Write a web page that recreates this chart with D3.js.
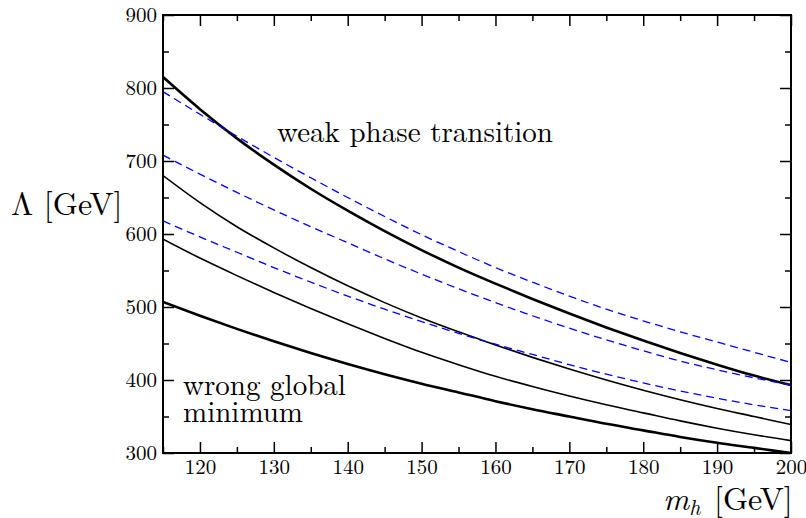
<!DOCTYPE html>
<html>
<head>
<meta charset="utf-8">
<script src="https://cdn.jsdelivr.net/npm/d3@7"></script>
<style>
  body { margin: 0; background: #fff; }
</style>
</head>
<body>
<div id="chart"></div>
<script>
const mh = [115, 120, 125, 130, 135, 140, 145, 150, 155, 160, 165, 170, 175, 180, 185, 190, 195, 200];

// solid black curves, top to bottom (first and last are the thick ones)
const solidTop = [815, 771, 731, 695, 662, 632, 604, 578, 554, 532, 511, 491, 472, 454, 437, 421, 406, 393];
const solid2 = [680, 643, 610, 581, 554, 529, 506, 485, 466, 448, 431, 415, 400, 386, 373, 361, 350, 339];
const solid3 = [593, 567, 543, 520, 498, 477, 457, 438, 421, 405, 391, 378, 366, 355, 344, 334, 325, 317];
const solidBottom = [507, 488, 470, 453, 437, 422, 408, 395, 383, 371, 360, 350, 340, 331, 322, 314, 307, 300];

// blue dashed curves, top to bottom
const dashed1 = [795, 764, 734, 705, 677, 650, 624, 599, 576, 554, 534, 515, 497, 481, 466, 452, 438, 424];
const dashed2 = [708, 682, 657, 633, 610, 588, 566, 545, 525, 506, 488, 471, 455, 440, 426, 414, 403, 393];
const dashed3 = [618, 596, 575, 554, 534, 515, 497, 480, 464, 449, 435, 421, 408, 396, 385, 375, 366, 358];

const xTicks = [120, 130, 140, 150, 160, 170, 180, 190, 200];
const yTicks = [300, 400, 500, 600, 700, 800, 900];

const width = 806,
  height = 518,
  margin = { top: 15, right: 15, bottom: 65, left: 163 };

// pick the first serif face that is really installed (canvas width test)
function pickFont(candidates) {
  const ctx = document.createElement("canvas").getContext("2d");
  const probe = "mmmwwwlli 0123456789 ΛGeV";
  ctx.font = "40px monospace";
  const base = ctx.measureText(probe).width;
  for (const f of candidates) {
    ctx.font = `40px "${f}", monospace`;
    if (ctx.measureText(probe).width !== base) return `"${f}", serif`;
  }
  return "serif";
}
const serifFont = pickFont(["Latin Modern Roman", "CMU Serif", "Liberation Serif", "Tinos", "Times New Roman",
  "DejaVu Serif", "Noto Serif", "FreeSerif", "Nimbus Roman", "Nimbus Roman No9 L"]);

const svg = d3
  .select("#chart")
  .append("svg")
  .attr("width", width)
  .attr("height", height)
  .style("font-family", serifFont);

const xScale = d3
  .scaleLinear()
  .domain([115, 200])
  .range([margin.left, width - margin.right]);

const yScale = d3
  .scaleLinear()
  .domain([300, 900])
  .range([height - margin.bottom, margin.top]);

// curves
const lineFunc = d3
  .line()
  .x(d => xScale(d[0]))
  .y(d => yScale(d[1]))
  .curve(d3.curveMonotoneX);

const series = [
  { values: solidTop, color: "#000", w: 2.6, dash: null },
  { values: solid2, color: "#000", w: 1.6, dash: null },
  { values: solid3, color: "#000", w: 1.6, dash: null },
  { values: solidBottom, color: "#000", w: 2.6, dash: null },
  { values: dashed1, color: "#0000ff", w: 1.3, dash: "8,5" },
  { values: dashed2, color: "#0000ff", w: 1.3, dash: "8,5" },
  { values: dashed3, color: "#0000ff", w: 1.3, dash: "8,5" },
];

svg
  .append("defs")
  .append("clipPath")
  .attr("id", "plot-clip")
  .append("rect")
  .attr("x", margin.left)
  .attr("y", margin.top)
  .attr("width", width - margin.left - margin.right)
  .attr("height", height - margin.top - margin.bottom);

svg
  .append("g")
  .attr("clip-path", "url(#plot-clip)")
  .selectAll("path.curve")
  .data(series)
  .join("path")
  .attr("class", "curve")
  .attr("fill", "none")
  .attr("stroke", d => d.color)
  .attr("stroke-width", d => d.w)
  .attr("stroke-dasharray", d => d.dash)
  .attr("d", d => lineFunc(d.values.map((v, i) => [mh[i], v])));

// axes: ticks point inward on all four sides, minor ticks every half step
const majorLen = 11, minorLen = 6;
const xMinor = d3.range(115, 201, 5).filter(v => !xTicks.includes(v));
const yMinor = d3.range(350, 900, 100);

function styleAxis(g) {
  g.attr("font-family", serifFont).attr("font-size", 21);
  g.select(".domain").remove();
  g.selectAll(".tick line").attr("stroke", "#000").attr("stroke-width", 1.5);
  g.selectAll(".tick text").attr("fill", "#000");
}

// bottom
svg.append("g")
  .attr("transform", `translate(0,${height - margin.bottom})`)
  .call(d3.axisBottom(xScale).tickValues(xTicks).tickSize(-majorLen).tickPadding(6).tickFormat(d3.format("d")))
  .call(styleAxis);
svg.append("g")
  .attr("transform", `translate(0,${height - margin.bottom})`)
  .call(d3.axisBottom(xScale).tickValues(xMinor).tickSize(-minorLen).tickFormat(""))
  .call(styleAxis);
// top
svg.append("g")
  .attr("transform", `translate(0,${margin.top})`)
  .call(d3.axisTop(xScale).tickValues(xTicks).tickSize(-majorLen).tickFormat(""))
  .call(styleAxis);
svg.append("g")
  .attr("transform", `translate(0,${margin.top})`)
  .call(d3.axisTop(xScale).tickValues(xMinor).tickSize(-minorLen).tickFormat(""))
  .call(styleAxis);
// left
svg.append("g")
  .attr("transform", `translate(${margin.left},0)`)
  .call(d3.axisLeft(yScale).tickValues(yTicks).tickSize(-majorLen).tickPadding(6).tickFormat(d3.format("d")))
  .call(styleAxis);
svg.append("g")
  .attr("transform", `translate(${margin.left},0)`)
  .call(d3.axisLeft(yScale).tickValues(yMinor).tickSize(-minorLen).tickFormat(""))
  .call(styleAxis);
// right
svg.append("g")
  .attr("transform", `translate(${width - margin.right},0)`)
  .call(d3.axisRight(yScale).tickValues(yTicks).tickSize(-majorLen).tickFormat(""))
  .call(styleAxis);
svg.append("g")
  .attr("transform", `translate(${width - margin.right},0)`)
  .call(d3.axisRight(yScale).tickValues(yMinor).tickSize(-minorLen).tickFormat(""))
  .call(styleAxis);

// frame
svg.append("rect")
  .attr("x", margin.left)
  .attr("y", margin.top)
  .attr("width", width - margin.left - margin.right)
  .attr("height", height - margin.top - margin.bottom)
  .attr("fill", "none")
  .attr("stroke", "#000")
  .attr("stroke-width", 2);

// axis titles
svg.append("text")
  .attr("x", 11)
  .attr("y", 215)
  .attr("font-size", 32)
  .text("Λ [GeV]");

const xLabel = svg.append("text")
  .attr("x", 663)
  .attr("y", 510)
  .attr("font-size", 32);
xLabel.append("tspan").attr("font-style", "italic").text("m");
xLabel.append("tspan").attr("font-style", "italic").attr("font-size", 22).attr("dy", 5).text("h");
xLabel.append("tspan").attr("dy", -5).attr("dx", 3).text(" [GeV]");

// region labels
svg.append("text")
  .attr("x", 277)
  .attr("y", 142)
  .attr("font-size", 29)
  .text("weak phase transition");

svg.append("text")
  .attr("x", 183)
  .attr("y", 395)
  .attr("font-size", 29)
  .text("wrong global");

svg.append("text")
  .attr("x", 183)
  .attr("y", 422)
  .attr("font-size", 29)
  .text("minimum");
</script>
</body>
</html>
